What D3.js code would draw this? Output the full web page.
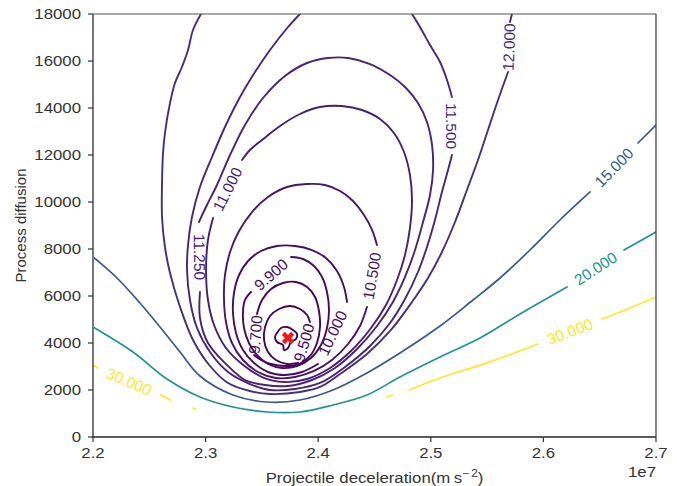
<!DOCTYPE html>
<html>
<head>
<meta charset="utf-8">
<script src="https://cdn.jsdelivr.net/npm/d3@7"></script>
<style>
  body { margin: 0; background: #fff; }
  text { font-family: "Liberation Sans", Arial, sans-serif; }
</style>
</head>
<body>
<svg id="chart" width="677" height="486"></svg>
<script>
// Axis ticks (x in units of 1e7 m s^-2)
const xTicks = [2.2, 2.3, 2.4, 2.5, 2.6, 2.7];
const yTicks = [0, 2000, 4000, 6000, 8000, 10000, 12000, 14000, 16000, 18000];

// Contour levels of the cost surface
const levels = [9.3, 9.5, 9.7, 9.9, 10.0, 10.5, 11.0, 11.25, 11.5, 12.0, 15.0, 20.0, 30.0];

// Best estimate (minimum of the surface)
const bestFit = [2.3732, 4213];

// Contour paths, one array of segments per level; [x (1e7), diffusion]
const c30 = [
  [[2.200, 3060], [2.204, 2940]],
  [[2.260, 1790], [2.269, 1570]],
  [[2.289, 1230], [2.291, 1190]],
  [[2.461, 1700], [2.466, 1790]],
  [[2.481, 2000], [2.508, 2510], [2.544, 3060], [2.579, 3660], [2.595, 3960]],
  [[2.652, 5020], [2.677, 5490], [2.700, 5960]]
];
const c20 = [
  [[2.200, 4681], [2.2355, 3617], [2.2657, 2468], [2.2950, 1702], [2.3243, 1277], [2.3545, 1064],
   [2.3838, 1064], [2.4131, 1362], [2.4433, 1787], [2.4726, 2553], [2.5082, 3404], [2.5437, 4213],
   [2.5792, 5234], [2.6210, 6383]],
  [[2.6716, 7957], [2.7000, 8723]]
];
const c15 = [
  [[2.200, 7660], [2.2213, 6766], [2.2417, 5702], [2.2595, 4681], [2.2773, 3617], [2.2950, 2596],
   [2.3243, 1787], [2.3545, 1489], [2.3838, 1574], [2.4131, 2000], [2.4433, 2723], [2.4726, 3574],
   [2.5082, 4723], [2.5375, 5830], [2.5615, 6766], [2.5881, 7957], [2.6147, 9234], [2.6414, 10426]],
  [[2.6840, 12511], [2.7000, 13277]]
];
const c12 = [
  [[2.2959, 18000], [2.2888, 17319], [2.2844, 16468], [2.2790, 15745], [2.2728, 15064], [2.2684, 14213],
   [2.2639, 12936], [2.2622, 12085], [2.2613, 10809], [2.2613, 9362], [2.2639, 8085], [2.2684, 6979],
   [2.2773, 5532], [2.2888, 4128], [2.3039, 3021], [2.3199, 2298], [2.3394, 1957], [2.3572, 1830],
   [2.3838, 1915], [2.4016, 2128], [2.4194, 2681], [2.4433, 3532], [2.4638, 4511], [2.4833, 5745],
   [2.4975, 6766], [2.5099, 7872], [2.5215, 9149], [2.5321, 10511], [2.5419, 11787], [2.5499, 12936],
   [2.5597, 14340], [2.5686, 15532]],
  [[2.5703, 17660], [2.5721, 18000]]
];
const c11_5 = [
  [[2.3838, 18000], [2.3732, 17447], [2.3572, 16468], [2.3439, 15532], [2.3306, 14468], [2.3172, 13191],
   [2.3057, 11915], [2.2950, 10638], [2.2879, 9362], [2.2844, 8170], [2.2835, 7106], [2.2861, 5830],
   [2.2924, 4638], [2.3039, 3617], [2.3199, 2766], [2.3394, 2255], [2.3572, 2000], [2.3794, 2043],
   [2.4016, 2298], [2.4238, 2979], [2.4460, 3872], [2.4638, 4851], [2.4771, 5872], [2.4886, 7021],
   [2.4966, 8085], [2.5037, 9234], [2.5099, 10426], [2.5153, 11362], [2.5188, 12000]],
  [[2.5188, 14468], [2.5144, 15191], [2.5082, 15957], [2.4993, 16681], [2.4904, 17447], [2.4833, 18000]]
];
const c11_25 = [
  [[2.2950, 6170], [2.2950, 5064], [2.3021, 4000], [2.3181, 3106], [2.3350, 2426], [2.3528, 2213],
   [2.3732, 2170], [2.3945, 2426], [2.4149, 2936], [2.4345, 3745], [2.4522, 4723], [2.4664, 5745],
   [2.4771, 6809], [2.4860, 7957], [2.4931, 9149], [2.4993, 10298], [2.5020, 11362], [2.5011, 12426],
   [2.4966, 13404], [2.4886, 14213], [2.4771, 14894], [2.4638, 15404], [2.4460, 15872], [2.4265, 16128],
   [2.4087, 16128], [2.3901, 15915], [2.3705, 15362], [2.3510, 14426], [2.3350, 13277], [2.3217, 12000],
   [2.3101, 10723], [2.3012, 9872], [2.2941, 9149]]
];
const c11 = [
  [[2.3066, 9319], [2.3021, 8383], [2.3004, 7106], [2.3021, 5830], [2.3075, 4766], [2.3181, 3787],
   [2.3323, 3106], [2.3501, 2553], [2.3696, 2340], [2.3901, 2468], [2.4105, 2936], [2.4300, 3702],
   [2.4469, 4638], [2.4602, 5617], [2.4700, 6681], [2.4771, 7745], [2.4815, 8894], [2.4833, 10085],
   [2.4815, 11149], [2.4762, 12128], [2.4673, 12936], [2.4549, 13532], [2.4389, 13915], [2.4211, 14085],
   [2.4016, 14043], [2.3838, 13745], [2.3661, 13234], [2.3501, 12638], [2.3394, 12213], [2.3323, 11787]]
];
const c10_5 = [
  [[2.4433, 5532], [2.4371, 4723], [2.4265, 3957], [2.4122, 3277], [2.3963, 2809], [2.3794, 2553],
   [2.3625, 2511], [2.3465, 2766], [2.3332, 3277], [2.3234, 4000], [2.3181, 4894], [2.3163, 5915],
   [2.3172, 6894], [2.3217, 7872], [2.3297, 8766], [2.3412, 9574], [2.3554, 10213], [2.3723, 10638],
   [2.3901, 10766], [2.4060, 10723], [2.4194, 10468], [2.4309, 10043], [2.4407, 9447], [2.4478, 8809],
   [2.4522, 8170]]
];
const c10 = [
  [[2.3998, 3106], [2.3856, 2766], [2.3705, 2638], [2.3554, 2766], [2.3430, 3149], [2.3332, 3702],
   [2.3270, 4426], [2.3243, 5277], [2.3252, 6128], [2.3297, 6894], [2.3377, 7489], [2.3492, 7915],
   [2.3634, 8128], [2.3794, 8128], [2.3945, 7957], [2.4069, 7617], [2.4167, 7064], [2.4229, 6383],
   [2.4256, 5745]]
];
const c9_9 = [
  [[2.3759, 7660], [2.3865, 7574], [2.3963, 7277], [2.4034, 6809], [2.4078, 6170], [2.4096, 5404],
   [2.4078, 4638], [2.4025, 3915], [2.3936, 3362], [2.3812, 3021], [2.3679, 2936], [2.3554, 3106],
   [2.3456, 3489], [2.3385, 4000], [2.3341, 4638], [2.3332, 5319], [2.3350, 5830], [2.3403, 6170]]
];
const c9_7 = [
  [[2.3456, 5234], [2.3501, 5830], [2.3581, 6298], [2.3687, 6553], [2.3803, 6596], [2.3901, 6383],
   [2.3972, 5957], [2.4007, 5362], [2.4016, 4681], [2.3989, 4000], [2.3927, 3447], [2.3830, 3106],
   [2.3705, 3021], [2.3581, 3106], [2.3492, 3277], [2.3430, 3489]]
];
const c9_5 = [
  [[2.3821, 3149], [2.3723, 3106], [2.3625, 3277], [2.3554, 3617], [2.3519, 4128], [2.3528, 4681],
   [2.3572, 5149], [2.3652, 5447], [2.3750, 5574], [2.3838, 5447], [2.3901, 5191], [2.3927, 4894]]
];
const c9_3 = [
  [[2.3634, 4426], [2.3670, 4638], [2.3723, 4681], [2.3776, 4553], [2.3812, 4383], [2.3803, 4170],
   [2.3758, 4043], [2.3732, 3787], [2.3696, 3702], [2.3687, 3915], [2.3634, 4043], [2.3616, 4255],
   [2.3634, 4426]]
];

// Inline labels: level and the segment after which the label gap opens
const labelGaps = [
  [30, 0], [30, 4], [20, 0], [15, 0], [12, 0], [11.5, 0], [11.25, 0], [11, 0],
  [10.5, 0], [10, 0], [9.9, 0], [9.7, 0], [9.5, 0]
];

const contourSets = new Map([
  [9.3, c9_3], [9.5, c9_5], [9.7, c9_7], [9.9, c9_9], [10.0, c10], [10.5, c10_5],
  [11.0, c11], [11.25, c11_25], [11.5, c11_5], [12.0, c12], [15.0, c15], [20.0, c20], [30.0, c30]
]);

const W = 677, H = 486;
const margin = { left: 93, right: 21, top: 14, bottom: 49 };
const svg = d3.select("#chart");
const TEXT = "#333";
const WIDE = 1.12;   // horizontal stretch of the axis text

const x = d3.scaleLinear().domain([2.2, 2.7]).range([margin.left, W - margin.right]);
const y = d3.scaleLinear().domain([0, 18000]).range([H - margin.bottom, margin.top]);
const color = d3.scaleSequential(d3.interpolateViridis).domain(d3.extent(levels));

svg.append("defs").append("clipPath").attr("id", "plot-clip")
  .append("rect")
  .attr("x", x.range()[0]).attr("y", y.range()[1])
  .attr("width", x.range()[1] - x.range()[0])
  .attr("height", y.range()[0] - y.range()[1]);

const plot = svg.append("g").attr("clip-path", "url(#plot-clip)");

const line = d3.line()
  .x(d => x(d[0])).y(d => y(d[1]))
  .curve(d3.curveCatmullRom.alpha(0.5));

levels.forEach(lv => {
  contourSets.get(lv).forEach(seg => {
    plot.append("path")
      .attr("d", line(seg))
      .attr("fill", "none")
      .attr("stroke", color(lv))
      .attr("stroke-width", lv <= 12 ? 1.9 : 1.7)
      .attr("stroke-linejoin", "round")
      .attr("stroke-linecap", "round");
  });
});

// Labels sit in the gap between the end of one segment and the start of the next
const fmt = d3.format(".3f");
labelGaps.forEach(([lv, k]) => {
  const segs = contourSets.get(lv);
  const a = segs[k][segs[k].length - 1];
  const b = segs[(k + 1) % segs.length][0];
  const ax = x(a[0]), ay = y(a[1]), bx = x(b[0]), by = y(b[1]);
  let ang = Math.atan2(by - ay, bx - ax) * 180 / Math.PI;
  if (ang > 90) ang -= 180;
  if (ang <= -90) ang += 180;
  svg.append("text")
    .attr("transform", `translate(${(ax + bx) / 2},${(ay + by) / 2}) rotate(${ang})`)
    .attr("text-anchor", "middle")
    .attr("dominant-baseline", "central")
    .attr("font-size", 15.5)
    .attr("fill", color(lv))
    .text(fmt(lv));
});

// Best-fit marker
plot.append("path")
  .attr("d", d3.symbol().type(d3.symbolCross).size(95)())
  .attr("transform", `translate(${x(bestFit[0])},${y(bestFit[1])}) rotate(45)`)
  .attr("fill", "#f01818");

// Axes frame
const x0 = x.range()[0], x1 = x.range()[1], y0 = y.range()[0], y1 = y.range()[1];
svg.append("line").attr("x1", x0).attr("x2", x1).attr("y1", y1).attr("y2", y1)
  .attr("stroke", "#555").attr("stroke-width", 1.2);
svg.append("line").attr("x1", x1).attr("x2", x1).attr("y1", y1).attr("y2", y0)
  .attr("stroke", "#333").attr("stroke-width", 1.2);
svg.append("line").attr("x1", x0).attr("x2", x0).attr("y1", y1).attr("y2", y0 + 1)
  .attr("stroke", "#777").attr("stroke-width", 2);
svg.append("line").attr("x1", x0 - 1).attr("x2", x1).attr("y1", y0).attr("y2", y0)
  .attr("stroke", "#222").attr("stroke-width", 1.6);

// Horizontal text, slightly widened
function wideText(g, px, py, anchor, size) {
  return g.append("text")
    .attr("transform", `translate(${px},${py}) scale(${WIDE},1)`)
    .attr("text-anchor", anchor).attr("font-size", size).attr("fill", TEXT);
}

// X axis ticks
const gx = svg.append("g");
xTicks.forEach(t => {
  gx.append("line").attr("x1", x(t)).attr("x2", x(t)).attr("y1", y0).attr("y2", y0 + 5)
    .attr("stroke", TEXT).attr("stroke-width", 1.2);
  wideText(gx, x(t), y0 + 21, "middle", 15).text(d3.format(".1f")(t));
});
wideText(svg, x1, y0 + 40, "end", 15).text("1e7");

// Y axis ticks
const gy = svg.append("g");
yTicks.forEach(t => {
  gy.append("line").attr("x1", x0 - 5).attr("x2", x0).attr("y1", y(t)).attr("y2", y(t))
    .attr("stroke", TEXT).attr("stroke-width", 1.2);
  wideText(gy, x0 - 12, y(t), "end", 15).attr("dominant-baseline", "central").text(t);
});

// Axis titles
const xl = wideText(svg, (x0 + x1) / 2, y0 + 46, "middle", 15);
xl.append("tspan").text("Projectile deceleration(m\u2009s");
xl.append("tspan").attr("dy", -6).attr("font-size", 10.5).text("\u2212\u20092");
xl.append("tspan").attr("dy", 6).text(")");

svg.append("text")
  .attr("transform", `translate(26,${(y0 + y1) / 2}) rotate(-90)`)
  .attr("text-anchor", "middle").attr("font-size", 15).attr("fill", TEXT)
  .text("Process diffusion");
</script>
</body>
</html>
